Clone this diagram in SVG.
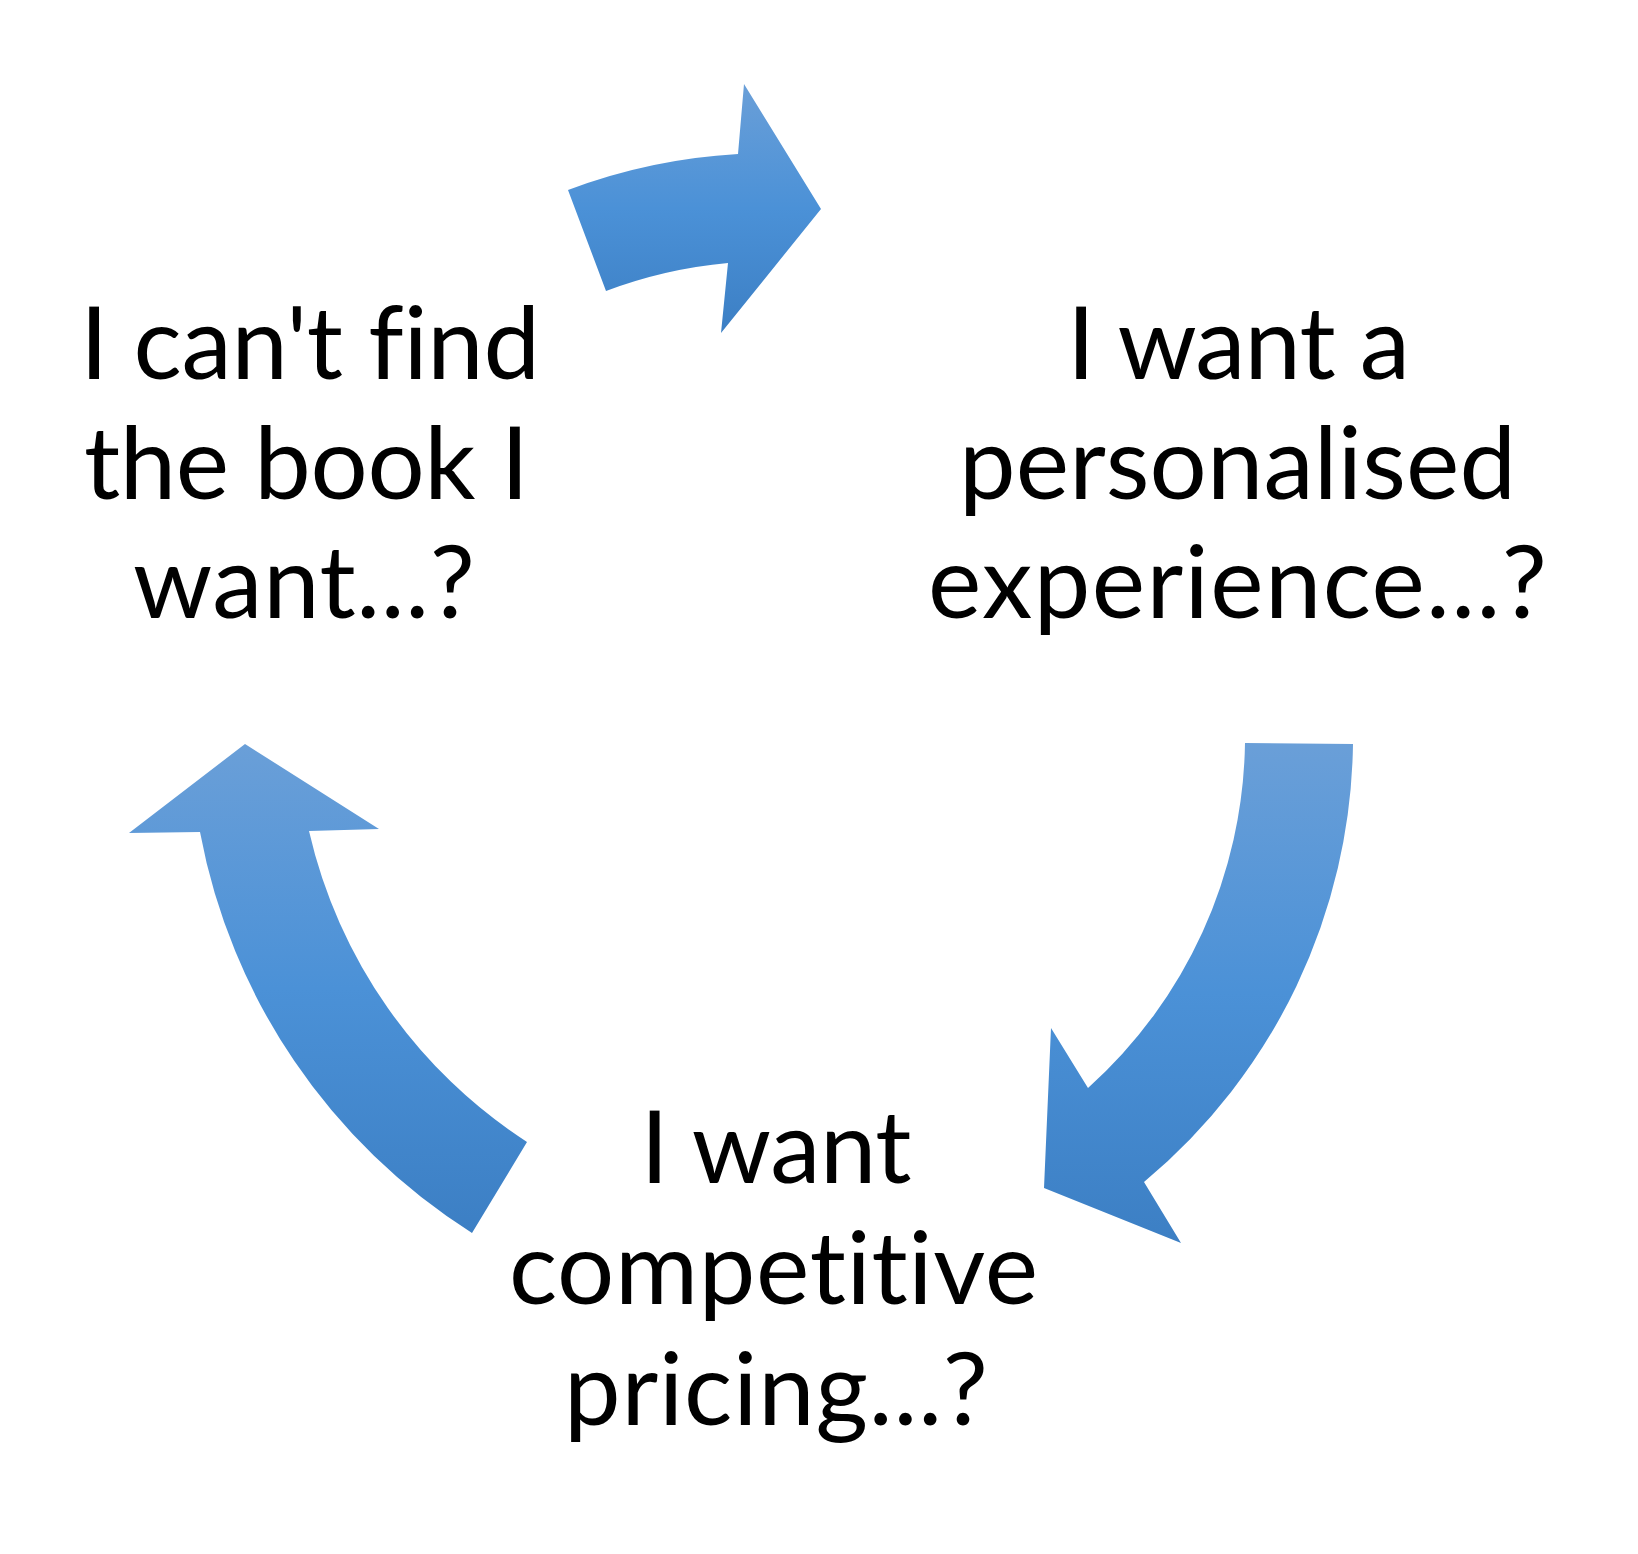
<svg xmlns="http://www.w3.org/2000/svg" width="1638" height="1554" viewBox="0 0 1638 1554">
<defs>
<linearGradient id="blue" x1="0" y1="0" x2="0" y2="1">
<stop offset="0" stop-color="#6a9fd8"/>
<stop offset="0.5" stop-color="#4b91d7"/>
<stop offset="1" stop-color="#3c7fc4"/>
</linearGradient>
</defs>
<style>
.arrow{fill:url(#blue);stroke:none}
.lbl{font-family:Lato,"Open Sans","Liberation Sans",sans-serif;font-size:101px;fill:#000;text-anchor:middle;font-variant-ligatures:none;font-feature-settings:"liga" 0,"clig" 0}
</style>
<rect width="1638" height="1554" fill="#fff"/>
<g id="connectors">
<path id="arrow-top" class="arrow" d="M568,190 A572,572 0 0 1 738,154 L744,84 L821,209 L721,333 L728,263 A465,465 0 0 0 606,291 Z"/>
<path id="arrow-right" class="arrow" d="M1245,743 L1353,744 A580,580 0 0 1 1144,1182 L1181,1243 L1044,1188 L1051,1028 L1088,1088 A473,473 0 0 0 1245,743 Z"/>
<path id="arrow-left" class="arrow" d="M472,1233 A606,606 0 0 1 200,832 L129,833 L245,744 L379,829 L309,831 A505,505 0 0 0 527,1142 Z"/>
</g>
<g id="node-find">
<text class="lbl" x="310" y="379" textLength="460">I can't find</text>
<text class="lbl" x="306.5" y="498.5" textLength="445">the book I</text>
<text class="lbl" x="304" y="617.5" textLength="342">want...?</text>
</g>
<g id="node-personalised">
<text class="lbl" x="1238.5" y="379" textLength="343">I want a</text>
<text class="lbl" x="1237.5" y="498.5" textLength="557">personalised</text>
<text class="lbl" x="1237.5" y="617.5" textLength="619">experience...?</text>
</g>
<g id="node-pricing">
<text class="lbl" x="776" y="1183" textLength="271">I want</text>
<text class="lbl" x="773.5" y="1304" textLength="529">competitive</text>
<text class="lbl" x="776" y="1425" textLength="424">pricing...?</text>
</g>
</svg>
